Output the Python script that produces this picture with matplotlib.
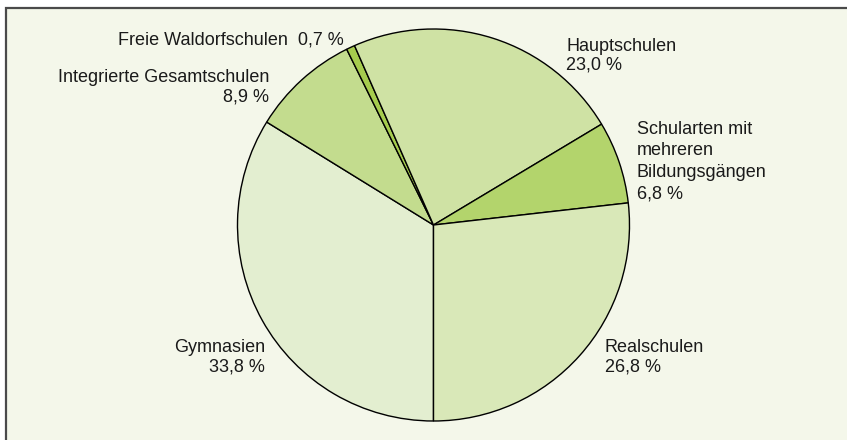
import matplotlib
matplotlib.use("Agg")
import matplotlib.pyplot as plt
from matplotlib.patches import Rectangle

plt.rcParams["font.family"] = ["Liberation Sans", "DejaVu Sans"]

# Anteile der Schularten (%), im Uhrzeigersinn ab 6 Uhr
schularten = ["Gymnasien", "Integrierte Gesamtschulen", "Freie Waldorfschulen",
              "Hauptschulen", "Schularten mit mehreren Bildungsgängen", "Realschulen"]
anteile = [33.8, 8.9, 0.7, 23.0, 6.8, 26.8]
farben = ["#e3eed0", "#c3dc8e", "#a6cc4e", "#cfe2a4", "#b3d46c", "#d9e8b8"]

W, H = 847, 440
fig = plt.figure(figsize=(W / 100, H / 100), dpi=100)
fig.patch.set_facecolor("white")
ax = fig.add_axes([0, 0, 1, 1])

# Rahmen / Hintergrund
ax.add_patch(Rectangle((5.5, -10), W + 20, H - 7.5 + 10, facecolor="#f4f7ea",
                       edgecolor="#4a4a4a", linewidth=1.6, zorder=0, clip_on=False))

ax.pie(anteile, colors=farben, startangle=270, counterclock=False,
       center=(433.5, H - 225), radius=196, frame=True,
       wedgeprops={"edgecolor": "black", "linewidth": 1.0})
ax.set_xlim(0, W); ax.set_ylim(0, H); ax.set_aspect("equal"); ax.axis("off")


def fmt(v):
    return f"{v:.1f}".replace(".", ",") + " %"


t = dict(fontsize=13, color="#1a1a1a", va="center")
ax.text(344, H - 40, f"Freie Waldorfschulen  {fmt(anteile[2])}", ha="right", **t)
ax.text(269, H - 77, "Integrierte Gesamtschulen", ha="right", **t)
ax.text(269, H - 97, fmt(anteile[1]), ha="right", **t)
ax.text(566, H - 46, "Hauptschulen", ha="left", **t)
ax.text(566, H - 65, fmt(anteile[3]), ha="left", **t)
for i, s in enumerate(["Schularten mit", "mehreren", "Bildungsgängen", fmt(anteile[4])]):
    ax.text(637, H - 129 - i * 21.5, s, ha="left", **t)
ax.text(265, H - 347, "Gymnasien", ha="right", **t)
ax.text(265, H - 367, fmt(anteile[0]), ha="right", **t)
ax.text(605, H - 347, "Realschulen", ha="left", **t)
ax.text(605, H - 367, fmt(anteile[5]), ha="left", **t)

fig.savefig("out.png", dpi=100)
